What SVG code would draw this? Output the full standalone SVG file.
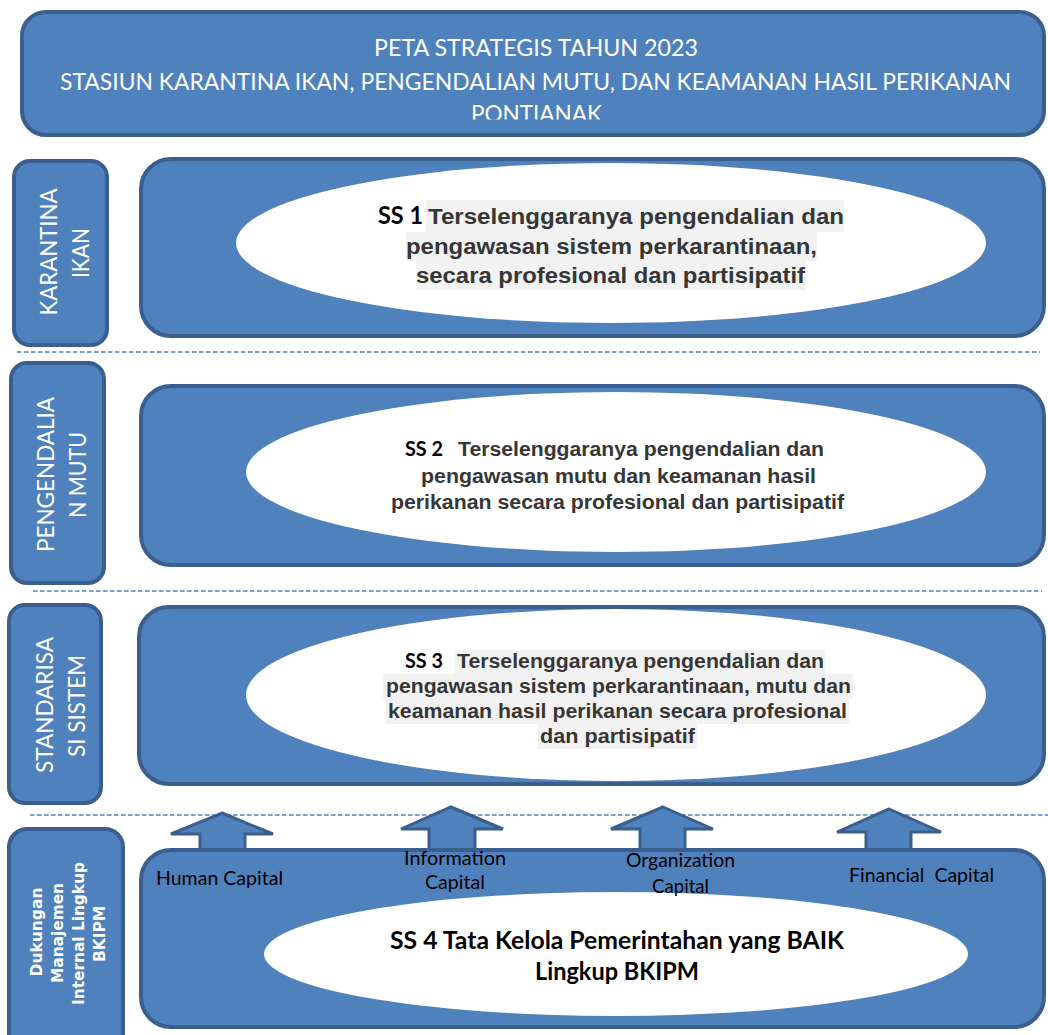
<svg xmlns="http://www.w3.org/2000/svg" width="1048" height="1035" viewBox="0 0 1048 1035">
<style>
.box{fill:#4f81bd;stroke:#3a5f8e;stroke-width:4}
.ell{fill:#ffffff}
.hl{fill:#f2f2f2}
.dash{stroke:#4f81bd;stroke-width:1.6;stroke-dasharray:4.5 2.5;fill:none}
.arrow{fill:#4f81bd;stroke:#3a5f8e;stroke-width:3;stroke-linejoin:miter}
.title{font-family:Lato,"Open Sans","Liberation Sans",sans-serif;font-size:24px;fill:#ffffff;text-anchor:middle}
.side{font-family:Lato,"Open Sans","Liberation Sans",sans-serif;font-size:24px;fill:#ffffff;text-anchor:middle}
.side4{font-family:"DejaVu Sans",Verdana,sans-serif;font-weight:bold;font-size:16.5px;fill:#ffffff;text-anchor:middle}
.ss{font-family:Lato,"Open Sans","Liberation Sans",sans-serif;font-weight:bold;fill:#000000}
.body1{font-family:"Liberation Sans",Arial,sans-serif;font-weight:bold;font-size:22px;fill:#363636}
.body2{font-family:"Liberation Sans",Arial,sans-serif;font-weight:bold;font-size:19.5px;fill:#363636}
.cap{font-family:Lato,"Open Sans","Liberation Sans",sans-serif;font-size:19px;fill:#000000;text-anchor:middle}
.ss4{font-family:Lato,"Open Sans","Liberation Sans",sans-serif;font-weight:bold;font-size:25px;fill:#000000;text-anchor:middle}
</style>
<defs>
<clipPath id="titleClip"><rect x="20" y="10" width="1028" height="109.5"/></clipPath>
</defs>

<g id="guides">
<line class="dash" x1="17" y1="352" x2="1040" y2="352"/>
<line class="dash" x1="33" y1="591" x2="1042" y2="591"/>
<line class="dash" x1="30" y1="815" x2="1048" y2="815"/>
</g>

<g id="title">
<rect class="box" x="22" y="12" width="1022" height="123" rx="24"/>
<g clip-path="url(#titleClip)">
<text class="title" x="536" y="55.5" textLength="324" lengthAdjust="spacingAndGlyphs">PETA STRATEGIS TAHUN 2023</text>
<text class="title" x="535.5" y="89.5" textLength="951" lengthAdjust="spacingAndGlyphs">STASIUN KARANTINA IKAN, PENGENDALIAN MUTU, DAN KEAMANAN HASIL PERIKANAN</text>
<text class="title" x="536.5" y="122" textLength="131" lengthAdjust="spacingAndGlyphs">PONTIANAK</text>
</g>
</g>

<g id="side-karantina">
<rect class="box" x="14" y="161" width="93" height="184" rx="16"/>
<text class="side" x="57" y="252" transform="rotate(-90 57 252)" textLength="127" lengthAdjust="spacingAndGlyphs">KARANTINA</text>
<text class="side" x="89" y="253" transform="rotate(-90 89 253)" textLength="50" lengthAdjust="spacingAndGlyphs">IKAN</text>
</g>

<g id="ss1">
<rect class="box" x="141" y="159" width="903" height="177" rx="30"/>
<ellipse class="ell" cx="611" cy="243" rx="375" ry="80"/>
<rect class="hl" x="426" y="200" width="418" height="32"/>
<rect class="hl" x="406" y="232" width="411" height="29"/>
<rect class="hl" x="416" y="261" width="390" height="29"/>
<text class="ss" x="378" y="224" font-size="25" textLength="45" lengthAdjust="spacingAndGlyphs">SS 1</text>
<text class="body1" x="428" y="224" textLength="416" lengthAdjust="spacingAndGlyphs">Terselenggaranya pengendalian dan</text>
<text class="body1" x="611.5" y="254" text-anchor="middle" textLength="411" lengthAdjust="spacingAndGlyphs">pengawasan sistem perkarantinaan,</text>
<text class="body1" x="610.5" y="283" text-anchor="middle" textLength="389" lengthAdjust="spacingAndGlyphs">secara profesional dan partisipatif</text>
</g>

<g id="side-pengendalian">
<rect class="box" x="11" y="363" width="93" height="220" rx="16"/>
<text class="side" x="54" y="474.5" transform="rotate(-90 54 474.5)" textLength="155" lengthAdjust="spacingAndGlyphs">PENGENDALIA</text>
<text class="side" x="86" y="475" transform="rotate(-90 86 475)" textLength="86" lengthAdjust="spacingAndGlyphs">N MUTU</text>
</g>

<g id="ss2">
<rect class="box" x="141" y="386" width="903" height="179" rx="30"/>
<ellipse class="ell" cx="616" cy="472" rx="370" ry="80"/>
<text class="ss" x="405" y="456" font-size="20" textLength="38" lengthAdjust="spacingAndGlyphs">SS 2</text>
<text class="body2" x="458" y="456" textLength="366" lengthAdjust="spacingAndGlyphs">Terselenggaranya pengendalian dan</text>
<text class="body2" x="618.5" y="483" text-anchor="middle" textLength="395" lengthAdjust="spacingAndGlyphs">pengawasan mutu dan keamanan hasil</text>
<text class="body2" x="617.5" y="509" text-anchor="middle" textLength="453" lengthAdjust="spacingAndGlyphs">perikanan secara profesional dan partisipatif</text>
</g>

<g id="side-standarisasi">
<rect class="box" x="9" y="605" width="92" height="198" rx="16"/>
<text class="side" x="53" y="705" transform="rotate(-90 53 705)" textLength="136" lengthAdjust="spacingAndGlyphs">STANDARISA</text>
<text class="side" x="85" y="706" transform="rotate(-90 85 706)" textLength="102" lengthAdjust="spacingAndGlyphs">SI SISTEM</text>
</g>

<g id="ss3">
<rect class="box" x="139" y="607" width="905" height="177" rx="30"/>
<ellipse class="ell" cx="616" cy="695" rx="370" ry="86"/>
<rect class="hl" x="455" y="650" width="370" height="24"/>
<rect class="hl" x="383" y="674" width="470" height="25"/>
<rect class="hl" x="386" y="699" width="463" height="25"/>
<rect class="hl" x="538" y="724" width="159" height="25"/>
<text class="ss" x="405" y="668" font-size="20" textLength="38" lengthAdjust="spacingAndGlyphs">SS 3</text>
<text class="body2" x="457" y="668" textLength="367" lengthAdjust="spacingAndGlyphs">Terselenggaranya pengendalian dan</text>
<text class="body2" x="618.5" y="693" text-anchor="middle" textLength="465" lengthAdjust="spacingAndGlyphs">pengawasan sistem perkarantinaan, mutu dan</text>
<text class="body2" x="617.5" y="718" text-anchor="middle" textLength="459" lengthAdjust="spacingAndGlyphs">keamanan hasil perikanan secara profesional</text>
<text class="body2" x="617.5" y="743" text-anchor="middle" textLength="155" lengthAdjust="spacingAndGlyphs">dan partisipatif</text>
</g>

<g id="connectors">
<path class="arrow" d="M222,813 L273,834 L245,834 L245,853 L200,853 L200,834 L171,834 Z"/>
<path class="arrow" d="M451,807 L503,829 L475,829 L475,853 L429,853 L429,829 L401,829 Z"/>
<path class="arrow" d="M663,807 L713,829 L685,829 L685,853 L640,853 L640,829 L611,829 Z"/>
<path class="arrow" d="M889,809 L941,832 L911,832 L911,853 L866,853 L866,832 L837,832 Z"/>
</g>

<g id="side-dukungan">
<rect class="box" x="9" y="829" width="114" height="230" rx="18"/>
<text class="side4" x="42" y="932" transform="rotate(-90 42 932)" textLength="89" lengthAdjust="spacingAndGlyphs">Dukungan</text>
<text class="side4" x="62.5" y="933" transform="rotate(-90 62.5 933)" textLength="100" lengthAdjust="spacingAndGlyphs">Manajemen</text>
<text class="side4" x="84" y="933.5" transform="rotate(-90 84 933.5)" textLength="143" lengthAdjust="spacingAndGlyphs">Internal Lingkup</text>
<text class="side4" x="105" y="934" transform="rotate(-90 105 934)" textLength="56" lengthAdjust="spacingAndGlyphs">BKIPM</text>
</g>

<g id="ss4">
<rect class="box" x="141" y="850" width="903" height="177" rx="30"/>
<ellipse class="ell" cx="616" cy="954" rx="352" ry="62"/>
<text class="ss4" x="617" y="949" textLength="454" lengthAdjust="spacingAndGlyphs">SS 4 Tata Kelola Pemerintahan yang BAIK</text>
<text class="ss4" x="617" y="980" textLength="164" lengthAdjust="spacingAndGlyphs">Lingkup BKIPM</text>
</g>

<g id="capital-labels">
<text class="cap" x="219.5" y="885" textLength="127" lengthAdjust="spacingAndGlyphs">Human Capital</text>
<text class="cap" x="455" y="865" textLength="102" lengthAdjust="spacingAndGlyphs">Information</text>
<text class="cap" x="455" y="889" textLength="60" lengthAdjust="spacingAndGlyphs">Capital</text>
<text class="cap" x="680.5" y="867" textLength="109" lengthAdjust="spacingAndGlyphs">Organization</text>
<text class="cap" x="680.5" y="893" textLength="57" lengthAdjust="spacingAndGlyphs">Capital</text>
<text class="cap" x="921.5" y="882" textLength="145" lengthAdjust="spacingAndGlyphs" xml:space="preserve">Financial  Capital</text>
</g>
</svg>
